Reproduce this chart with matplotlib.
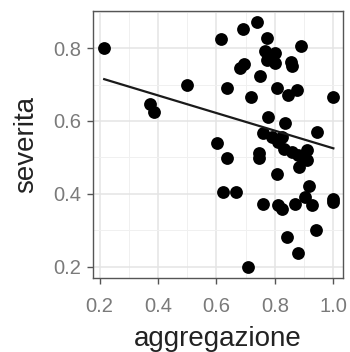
import numpy as np
import matplotlib
matplotlib.use('Agg')
import matplotlib.pyplot as plt

# ── data ─────────────────────────────────────────────────────
aggregazione = [0.216, 0.373, 0.387, 0.499, 0.615, 0.603, 0.635, 0.635, 0.624, 0.666,
                0.692, 0.738, 0.679, 0.695, 0.709, 0.717, 0.749, 0.774, 0.766, 0.801,
                0.772, 0.801, 0.854, 0.858, 0.888, 0.806, 0.846, 0.875, 1.000, 0.778,
                0.758, 0.789, 0.835, 0.823, 0.812, 0.831, 0.747, 0.744, 0.943, 0.880,
                0.909, 0.884, 0.909, 0.806, 0.915, 0.903, 0.758, 0.812, 0.823, 0.869,
                0.926, 1.000, 0.998, 0.840, 0.941, 0.880, 0.892, 0.860]
severita = [0.800, 0.647, 0.626, 0.699, 0.826, 0.539, 0.498, 0.690, 0.406, 0.406,
            0.853, 0.871, 0.745, 0.757, 0.200, 0.665, 0.724, 0.827, 0.791, 0.786,
            0.768, 0.759, 0.763, 0.750, 0.806, 0.690, 0.672, 0.684, 0.667, 0.612,
            0.568, 0.557, 0.594, 0.557, 0.543, 0.522, 0.511, 0.498, 0.571, 0.507,
            0.521, 0.475, 0.493, 0.455, 0.422, 0.392, 0.372, 0.369, 0.358, 0.372,
            0.369, 0.385, 0.379, 0.282, 0.301, 0.237, 0.500, 0.515]

# linear fit line (as drawn)
fit_slope = -0.242
fit_intercept = 0.767

x_ticks = [0.2, 0.4, 0.6, 0.8, 1.0]
y_ticks = [0.2, 0.4, 0.6, 0.8]

# ── plot ─────────────────────────────────────────────────────
plt.rcParams['font.family'] = ['Liberation Sans', 'DejaVu Sans']

fig = plt.figure(figsize=(3.5, 3.52), dpi=100)
ax = fig.add_axes([0.266, 0.21, 0.714, 0.759])

ax.scatter(aggregazione, severita, s=85, color='black', zorder=3, linewidths=0)

xs = np.array([min(aggregazione), max(aggregazione)])
ax.plot(xs, fit_intercept + fit_slope * xs, color='#1a1a1a', linewidth=1.6, zorder=4)

ax.set_xlim(0.178, 1.033)
ax.set_ylim(0.169, 0.902)
ax.set_xticks(x_ticks)
ax.set_xticklabels(['0.2', '0.4', '0.6', '0.8', '1.0'])
ax.set_yticks(y_ticks)
ax.set_yticklabels(['0.2', '0.4', '0.6', '0.8'])
ax.set_xticks([0.3, 0.5, 0.7, 0.9], minor=True)
ax.set_yticks([0.3, 0.5, 0.7, 0.9], minor=True)

ax.grid(which='major', color='#e4e4e4', linewidth=1.1)
ax.grid(which='minor', color='#f0f0f0', linewidth=0.7)
ax.set_axisbelow(True)

for s in ax.spines.values():
    s.set_color('#555555')
    s.set_linewidth(1.0)

ax.tick_params(which='major', length=4.5, width=1.0, color='#555555',
               labelsize=14.5, labelcolor='#7a7a7a')
ax.tick_params(axis='x', pad=9)
ax.tick_params(axis='y', pad=4)
ax.tick_params(which='minor', length=0)

ax.set_xlabel('aggregazione', fontsize=20, color='#222222', labelpad=7)
ax.set_ylabel('severita', fontsize=20, color='#222222', labelpad=10)

plt.savefig('out.png', dpi=100)
